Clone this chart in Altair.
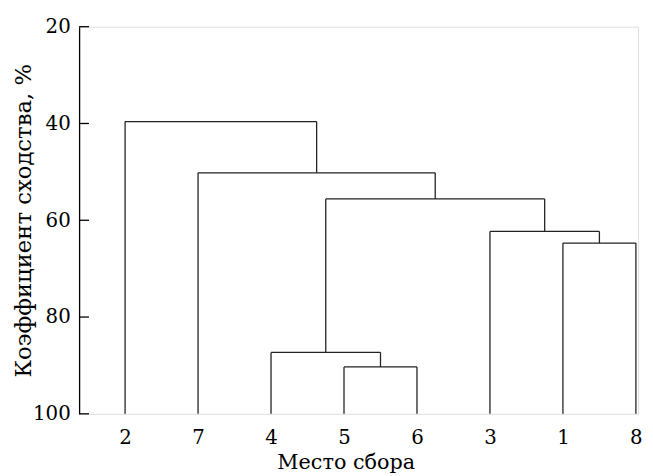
import altair as alt
import pandas as pd

# Leaf order along the x axis (sampling sites)
leaves = ["2", "7", "4", "5", "6", "3", "1", "8"]
# Merges: (left member, right member, similarity %). Members are leaf labels or cluster ids "c0".."c6"
merge_left = ["5", "4", "1", "3", "c3", "7", "2"]
merge_right = ["6", "c0", "8", "c2", "c1", "c4", "c5"]
merge_height = [90.3, 87.3, 64.7, 62.3, 55.6, 50.2, 39.6]
y_ticks = [20, 40, 60, 80, 100]

# Build dendrogram segments
pos = {lab: (i, 100.0) for i, lab in enumerate(leaves)}
segs = []
for k, (a, b, h) in enumerate(zip(merge_left, merge_right, merge_height)):
    xa, ha = pos[a]
    xb, hb = pos[b]
    segs.append({"x": xa, "x2": xa, "y": ha, "y2": h})
    segs.append({"x": xb, "x2": xb, "y": hb, "y2": h})
    segs.append({"x": xa, "x2": xb, "y": h, "y2": h})
    pos[f"c{k}"] = ((xa + xb) / 2, h)
df = pd.DataFrame(segs)
ticks_df = pd.DataFrame({"t": y_ticks})

FONT = "DejaVu Serif"
label_expr = "[" + ",".join(f"'{l}'" for l in leaves) + "][datum.value]"

xscale = alt.Scale(domain=[-0.63, 7.03], nice=False, zero=False)
yscale = alt.Scale(domain=[20, 100], reverse=True, nice=False, zero=False)

lines = alt.Chart(df).mark_rule(color="#222222", strokeWidth=1.3).encode(
    x=alt.X("x:Q", scale=xscale,
            axis=alt.Axis(values=list(range(len(leaves))), labelExpr=label_expr,
                          title="Место сбора", grid=False, domain=False, ticks=False,
                          labelFontSize=20, labelFont=FONT, labelColor="black",
                          labelPadding=14, titleFont=FONT, titleFontSize=21,
                          titleFontWeight="normal", titleColor="black",
                          titleX=270, titlePadding=4)),
    x2="x2:Q",
    y=alt.Y("y:Q", scale=yscale,
            axis=alt.Axis(values=y_ticks, title="Коэффициент сходства, %", grid=False,
                          ticks=False, domainColor="black", domainWidth=1.3,
                          labelFontSize=20, labelFont=FONT, labelColor="black",
                          labelPadding=9, titleFont=FONT, titleFontSize=23,
                          titleFontWeight="normal", titleColor="black",
                          titleX=-56, titleBaseline="middle")),
    y2="y2:Q",
)

tick_marks = alt.Chart(ticks_df).mark_rule(color="black", strokeWidth=1.3).encode(
    y=alt.Y("t:Q", scale=yscale),
    x=alt.value(0),
    x2=alt.value(10),
)

chart = (lines + tick_marks).properties(
    width=566, height=392,
    autosize=alt.AutoSizeParams(type="none"),
    padding={"left": 72, "top": 16, "right": 7, "bottom": 60},
).configure_view(stroke=None).configure(background="white", font=FONT)

chart.save("out.html", embed_options={"renderer": "svg", "actions": False})
